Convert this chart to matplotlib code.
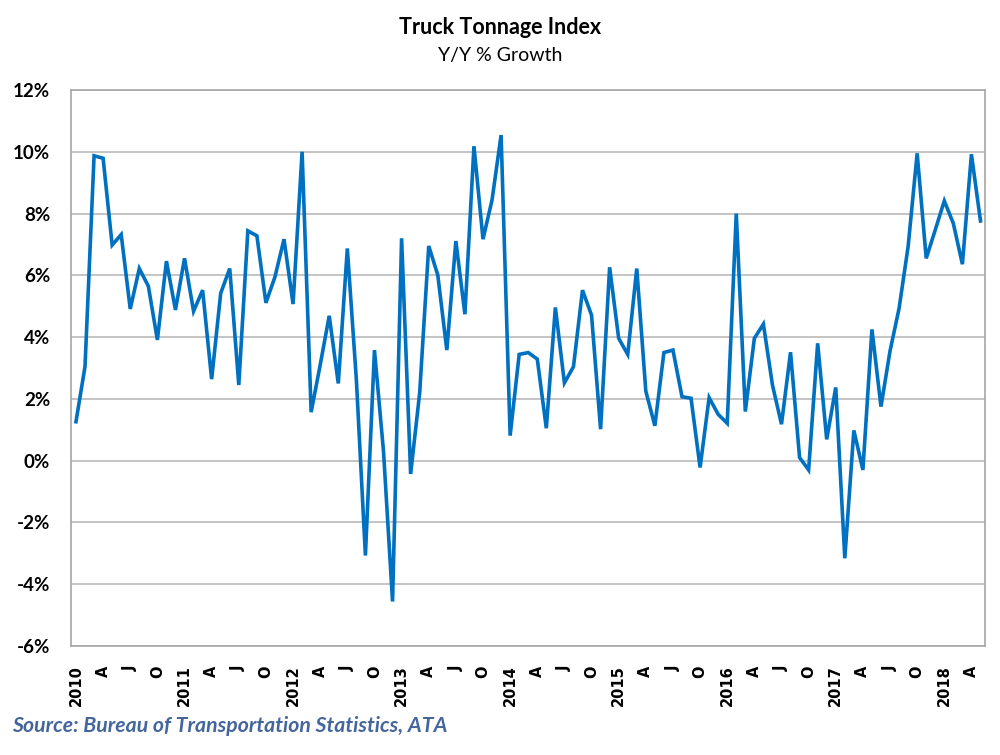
import matplotlib
matplotlib.use("Agg")
import matplotlib.pyplot as plt

# ---- data (Y/Y % growth, monthly Jan 2010 .. May 2018) ----
years = [2010, 2011, 2012, 2013, 2014, 2015, 2016, 2017, 2018]
quarter_letters = ["A", "J", "O"]   # Apr, Jul, Oct

growth_2010 = [1.26, 3.05, 9.87, 9.79, 6.98, 7.32, 4.91, 6.22, 5.65, 3.91, 6.46, 4.88]
growth_2011 = [6.55, 4.84, 5.52, 2.64, 5.42, 6.22, 2.45, 7.44, 7.28, 5.11, 5.95, 7.17]
growth_2012 = [5.07, 10.0, 1.57, 3.10, 4.69, 2.50, 6.87, 2.62, -3.07, 3.58, 0.30, -4.56]
growth_2013 = [7.20, -0.43, 2.20, 6.95, 6.01, 3.58, 7.11, 4.74, 10.18, 7.17, 8.44, 10.54]
growth_2014 = [0.81, 3.44, 3.50, 3.29, 1.05, 4.96, 2.52, 3.04, 5.52, 4.71, 1.02, 6.26]
growth_2015 = [3.96, 3.44, 6.22, 2.25, 1.13, 3.50, 3.58, 2.07, 2.02, -0.22, 2.04, 1.50]
growth_2016 = [1.21, 8.00, 1.59, 3.96, 4.42, 2.45, 1.18, 3.51, 0.10, -0.30, 3.80, 0.69]
growth_2017 = [2.37, -3.16, 0.98, -0.30, 4.25, 1.75, 3.55, 4.93, 6.93, 9.95, 6.55, 7.47]
growth_2018 = [8.41, 7.68, 6.36, 9.92, 7.76]

y_ticks = [-6, -4, -2, 0, 2, 4, 6, 8, 10, 12]
y_tick_labels = ["-6%", "-4%", "-2%", "0%", "2%", "4%", "6%", "8%", "10%", "12%"]

title = "Truck Tonnage Index"
subtitle = "Y/Y % Growth"
source = "Source: Bureau of Transportation Statistics, ATA"

# ---- assemble series ----
growth = (growth_2010 + growth_2011 + growth_2012 + growth_2013 + growth_2014 +
          growth_2015 + growth_2016 + growth_2017 + growth_2018)
n = len(growth)
idx = list(range(n))

# category labels: year at Jan, A/J/O at Apr/Jul/Oct
labels = []
for k in idx:
    m = k % 12
    if m == 0:
        labels.append(str(years[k // 12]))
    elif m in (3, 6, 9):
        labels.append(quarter_letters[m // 3 - 1])
    else:
        labels.append("")
label_pos = [k for k in idx if labels[k]]
label_txt = [labels[k] for k in label_pos]

# ---- figure ----
fig = plt.figure(figsize=(10, 7.55), dpi=100)
ax = fig.add_axes([0.071, 1 - 646 / 755, 0.914, 556 / 755])

ax.plot(idx, growth, color="#0070C0", lw=2.6, solid_joinstyle="miter", zorder=3)

ax.set_xlim(-0.55, n - 0.5)
ax.set_ylim(-6, 12)
ax.set_yticks(y_ticks)
ax.set_yticklabels(y_tick_labels)
ax.set_xticks(label_pos)
ax.set_xticklabels(label_txt, rotation=90, va="top", ha="center")

ax.yaxis.grid(True, color="#BFBFBF", lw=1.3)
ax.set_axisbelow(True)
for s in ax.spines.values():
    s.set_color("#A6A6A6")
    s.set_linewidth(1.2)
ax.tick_params(axis="both", length=0)
ax.tick_params(axis="y", pad=15)
ax.tick_params(axis="x", pad=14)

for t in ax.get_yticklabels():
    t.set_fontfamily(["Lato", "DejaVu Sans"])
    t.set_fontweight("bold")
    t.set_fontsize(13.5)
for t in ax.get_xticklabels():
    t.set_fontfamily(["DejaVu Sans"])
    t.set_fontweight("bold")
    t.set_fontsize(10.5)

fig.text(0.5, 1 - 27 / 755, title, ha="center", va="center",
         fontsize=15.5, fontweight="bold", family=["Lato", "DejaVu Sans"])
fig.text(0.5, 1 - 55 / 755, subtitle, ha="center", va="center",
         fontsize=14, family=["Lato", "DejaVu Sans"])
fig.text(0.012, 1 - 726 / 755, source, ha="left", va="center",
         fontsize=15.3, fontweight="bold", fontstyle="italic",
         color="#44669B", family=["Lato", "DejaVu Sans"])

fig.savefig("out.png", dpi=100)
